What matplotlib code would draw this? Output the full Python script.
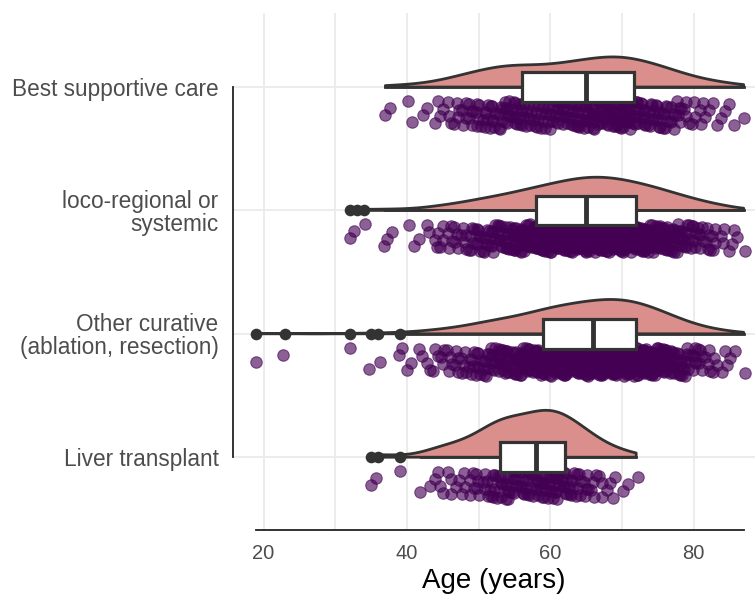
import numpy as np
import matplotlib
matplotlib.use("Agg")
import matplotlib.pyplot as plt
from matplotlib.patches import Rectangle, Polygon

plt.rcParams['font.family'] = ['Liberation Sans', 'DejaVu Sans']

# treatment groups, bottom to top
groups = ["Liver transplant",
          "Other curative\n(ablation, resection)",
          "loco-regional or\nsystemic",
          "Best supportive care"]

# number of patients per year of age, starting at the given age
liver_start = 35
liver_counts = [1, 1, 0, 0, 1, 0, 0, 1, 1, 2, 2, 3, 2, 3, 4, 4, 5, 7, 7, 8,
                7, 7, 8, 8, 9, 9, 9, 8, 7, 6, 5, 4, 3, 2, 2, 1, 1, 1]

other_start = 19
other_counts = [1, 0, 0, 0, 1, 0, 0, 0, 0, 0, 0, 0, 0, 1, 0, 0, 1, 1, 0, 0,
                2, 1, 1, 2, 2, 3, 3, 4, 4, 5, 6, 7, 8, 9, 10, 10, 11, 12, 13, 15,
                16, 17, 18, 19, 20, 20, 21, 22, 22, 23, 23, 23, 22, 21, 20, 18, 16, 14, 12, 10,
                8, 6, 5, 4, 3, 2, 2, 1, 1]

loco_start = 32
loco_counts = [1, 1, 1, 0, 0, 2, 1, 0, 1, 1, 1, 2, 3, 3, 4, 4, 5, 6, 7, 8,
               8, 9, 10, 11, 12, 13, 14, 15, 16, 17, 18, 19, 20, 20, 21, 21, 20, 20, 19, 18,
               17, 16, 15, 14, 12, 11, 10, 8, 7, 6, 5, 4, 3, 2, 2, 1]

bsc_start = 37
bsc_counts = [1, 1, 0, 1, 1, 1, 1, 2, 2, 3, 4, 4, 5, 6, 6, 7, 7, 8, 8, 8,
              7, 7, 7, 7, 8, 8, 9, 9, 9, 10, 10, 11, 10, 12, 11, 9, 9, 8, 8, 7,
              6, 5, 4, 3, 3, 2, 2, 2, 1, 1, 1]

x_ticks = [20, 40, 60, 80]

starts = [liver_start, other_start, loco_start, bsc_start]
counts = [liver_counts, other_counts, loco_counts, bsc_counts]

cloud_col = "#DB8F8C"
line_col = "#333333"
dot_col = "#440154"


def ages_from_counts(start, cnt):
    ages = np.arange(start, start + len(cnt))
    return np.repeat(ages, cnt).astype(float)


def kde(vals, grid):
    n = len(vals)
    sd = vals.std(ddof=1)
    q75, q25 = np.percentile(vals, [75, 25])
    bw = 0.9 * min(sd, (q75 - q25) / 1.34) * n ** -0.2
    z = (grid[:, None] - vals[None, :]) / bw
    return np.exp(-0.5 * z ** 2).sum(1) / (n * bw * np.sqrt(2 * np.pi))


fig = plt.figure(figsize=(7.55, 5.97), dpi=100)
ax = fig.add_axes([233 / 755, 1 - 530 / 597, (755 - 233) / 755, (530 - 13) / 597])

data = [ages_from_counts(s, c) for s, c in zip(starts, counts)]
dens = []
for vals in data:
    grid = np.linspace(vals.min(), vals.max(), 512)
    dens.append((grid, kde(vals, grid)))
scale = 0.38 / max(d.max() for _, d in dens)

box_h = 0.24
for y0, vals, (grid, d) in zip(range(4), data, dens):
    # half violin above the baseline
    px = np.r_[grid, grid[-1], grid[0]]
    py = np.r_[y0 + d * scale, y0, y0]
    ax.add_patch(Polygon(np.c_[px, py], closed=True, fc=cloud_col,
                         ec=line_col, lw=2.0, zorder=2, joinstyle='round'))

    # jittered raw points below the baseline
    idx = np.arange(len(vals))
    u = (0.5 + idx * 0.7548776662) % 1
    v = (0.5 + idx * 0.5698402910) % 1
    ax.scatter(vals + 0.8 * (v - 0.5), y0 - 0.11 - 0.23 * u, s=68,
               fc=dot_col, ec=dot_col, lw=0.8, alpha=0.62, zorder=3)

    # boxplot on the baseline
    q1, med, q3 = np.percentile(vals, [25, 50, 75])
    iqr = q3 - q1
    lo = vals[vals >= q1 - 1.5 * iqr].min()
    hi = vals[vals <= q3 + 1.5 * iqr].max()
    out = np.unique(vals[(vals < lo) | (vals > hi)])
    ax.plot([lo, q1], [y0, y0], color=line_col, lw=2.0, zorder=4)
    ax.plot([q3, hi], [y0, y0], color=line_col, lw=2.0, zorder=4)
    ax.add_patch(Rectangle((q1, y0 - box_h / 2), q3 - q1, box_h, fc="white",
                           ec=line_col, lw=2.3, zorder=5))
    ax.plot([med, med], [y0 - box_h / 2, y0 + box_h / 2], color=line_col,
            lw=3.5, zorder=6, solid_capstyle='butt')
    ax.scatter(out, np.full(len(out), y0), s=70, color=line_col, lw=0, zorder=6)

allv = np.concatenate(data)
ax.set_xlim(15.74, 88.58)
ax.set_ylim(-0.59, 3.60)

ax.set_xticks(x_ticks)
ax.set_xticks([30, 50, 70], minor=True)
ax.set_yticks(range(4))
ax.set_yticklabels(groups, linespacing=1.0)
ax.grid(True, which='both', axis='x', color='#EBEBEB', lw=1.3, zorder=0)
ax.grid(True, which='major', axis='y', color='#EBEBEB', lw=1.3, zorder=0)
ax.set_axisbelow(True)

ax.tick_params(axis='both', which='both', length=0)
ax.tick_params(axis='x', labelsize=14.5, labelcolor='#4D4D4D', pad=10)
ax.tick_params(axis='y', labelsize=16.3, labelcolor='#4D4D4D', pad=10.5)
ax.set_xlabel("Age (years)", fontsize=20, color='black', labelpad=4)

for side in ['top', 'right']:
    ax.spines[side].set_visible(False)
ax.spines['left'].set_bounds(0, 3)
ax.spines['bottom'].set_bounds(allv.min(), allv.max())
for side in ['left', 'bottom']:
    ax.spines[side].set_color('#222222')
    ax.spines[side].set_linewidth(1.3)

fig.savefig("out.png", dpi=100)
